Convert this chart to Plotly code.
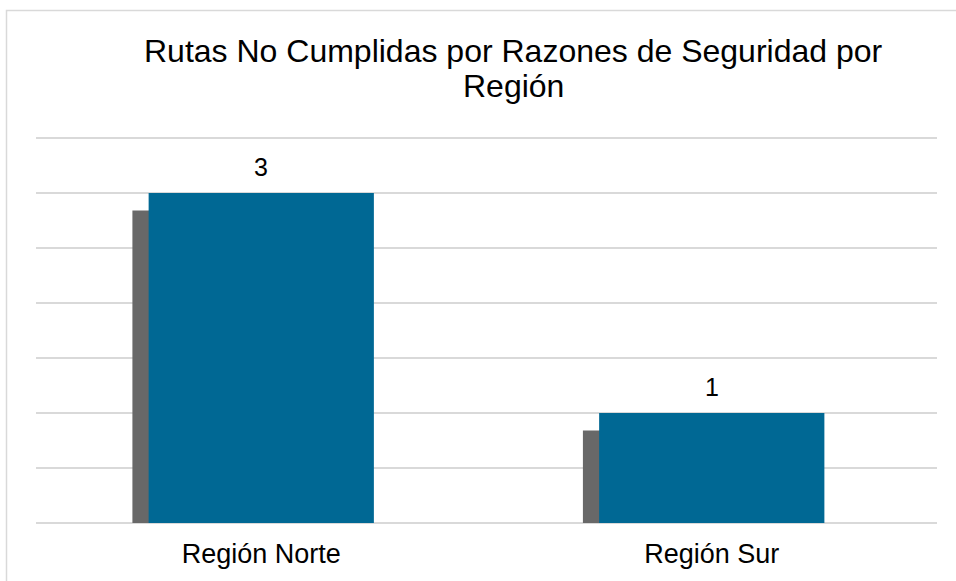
import plotly.graph_objects as go

categories = ["Región Norte", "Región Sur"]
values = [3, 1]
title_lines = ["Rutas No Cumplidas por Razones de Seguridad por", "Región"]

BAR = "#006894"
SHADOW = "#686868"
GRID = "#D9D9D9"
FONT = "Liberation Sans, Arial, sans-serif"

fig = go.Figure()

# drop shadow behind each bar
fig.add_trace(go.Bar(
    x=categories, y=[v - 0.14 for v in values], base=-0.02,
    width=0.5, offset=-0.286, marker=dict(color=SHADOW, line=dict(width=0)),
    cliponaxis=False, hoverinfo="skip", showlegend=False,
))
fig.add_trace(go.Bar(
    x=categories, y=values, width=0.5, offset=-0.25,
    marker=dict(color=BAR, line=dict(width=0)), showlegend=False,
))

for c, v in zip(categories, values):
    fig.add_annotation(x=c, y=v, xref="x", yref="y", text=str(v), showarrow=False,
                       yanchor="bottom", yshift=10, font=dict(size=25, color="#000000", family=FONT))

W, H = 956, 581
ml, mr, mt, mb = 36, 19, 135, 58
pw, ph = W - ml - mr, H - mt - mb
def px(x):
    return (x - ml) / pw
def py(y):
    return (H - mb - y) / ph

fig.add_annotation(x=px(513), y=py(63), xref="paper", yref="paper", text=title_lines[0],
                   showarrow=False, xanchor="center", yanchor="bottom", yshift=-8,
                   font=dict(size=32, color="#000000", family=FONT))
fig.add_annotation(x=px(513), y=py(98), xref="paper", yref="paper", text=title_lines[1],
                   showarrow=False, xanchor="center", yanchor="bottom", yshift=-8,
                   font=dict(size=32, color="#000000", family=FONT))

fig.add_shape(type="rect", xref="paper", yref="paper", x0=px(6.5), y0=py(620), x1=px(1000), y1=py(10.5),
              line=dict(color=GRID, width=1.5), fillcolor="rgba(0,0,0,0)", layer="below")

fig.update_layout(
    width=W, height=H, margin=dict(l=ml, r=mr, t=mt, b=mb),
    paper_bgcolor="white", plot_bgcolor="white", barmode="overlay",
    font=dict(family=FONT, color="#000000"),
    xaxis=dict(showline=False, showgrid=False, ticks="", tickfont=dict(size=27, color="#000000"),
               ticklabelstandoff=12),
    yaxis=dict(range=[0, 3.527], dtick=0.5, showgrid=True, gridcolor=GRID, gridwidth=1.5,
               zeroline=True, zerolinecolor=GRID, zerolinewidth=1.5,
               showticklabels=False, ticks="", showline=False),
)

fig.write_html("out.html", config={"displayModeBar": False},
               post_script="document.body.style.margin='0';document.body.style.overflow='hidden';")
